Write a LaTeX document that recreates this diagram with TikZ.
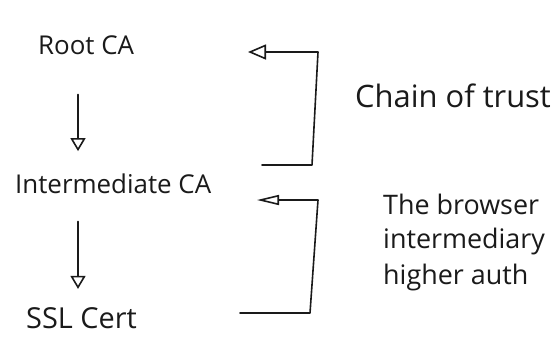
\documentclass[tikz,border=0pt]{standalone}
\usepackage{fontspec}
\setmainfont{Open Sans}
\usetikzlibrary{arrows.meta}
\definecolor{ink}{HTML}{1A1A1A}
\begin{document}
\begin{tikzpicture}[x=1bp,y=-1bp,
  pen/.style={draw=ink, line width=1.6bp, line cap=round, line join=round},
  hand/.style={text=ink, inner sep=0pt, anchor=base west, font=\fontsize{26}{30}\selectfont},
  note/.style={hand, font=\fontsize{27}{31}\selectfont},
  downarrow/.style={pen, -{Triangle[open, length=13bp, width=15bp, line width=1.6bp]}},
  backarrow/.style={pen, -{Triangle[open, length=18bp, width=15bp, line width=1.6bp]}},
  flatarrow/.style={pen, -{Triangle[open, length=22bp, width=10bp, line width=1.6bp]}},
]
\useasboundingbox (0,0) rectangle (558,338);
\fill[white] (0,0) rectangle (558,338);
\clip (0,0) rectangle (558,338);

% the certificate chain
\node[hand] (root)  at (38,54)  {Root CA};
\node[hand] (inter) at (15,193) {Intermediate CA};
\node[hand, font=\fontsize{29}{33}\selectfont] (ssl) at (26,328) {SSL Cert};

\draw[downarrow] ([xshift=40bp,yshift=-40bp]root.south west) -- ([xshift=63bp,yshift=22bp]inter.north west);
\draw[downarrow] ([xshift=63bp,yshift=-28bp]inter.south west) -- ([xshift=52bp,yshift=18bp]ssl.north west);

% bracket: chain of trust
\coordinate (b1start) at (262,165);
\coordinate (b1tip)   at (248,52);
\draw[backarrow] (b1start) -- (312,165) -- (318,52) -- (b1tip);
\node[hand, font=\fontsize{31}{35}\selectfont] (chain) at (355,107) {Chain of trust};

% bracket: intermediate verification
\coordinate (b2start) at (240,313);
\coordinate (b2tip)   at (257,200);
\draw[flatarrow] (b2start) -- (310,313) -- (318,200) -- (b2tip);
\node[note] (l1) at (383,214) {The browser};
\node[note] (l2) at (383,248) {intermediary};
\node[note] (l3) at (383,284) {higher auth};
\end{tikzpicture}
\end{document}
